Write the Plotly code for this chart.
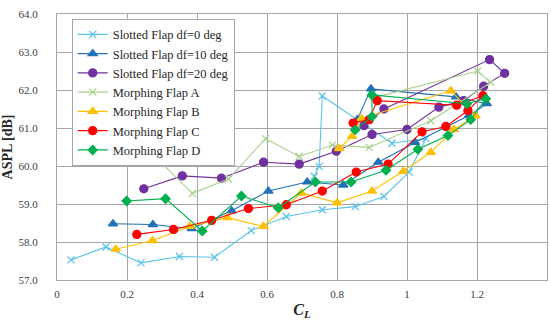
import plotly.graph_objects as go

# Slotted Flap df=0 deg
s0_cl = [0.04, 0.14, 0.24, 0.35, 0.45, 0.555, 0.655, 0.758, 0.852, 0.934, 1.006, 1.054, 0.957, 0.758, 0.749, 0.735]
s0_spl = [57.53, 57.87, 57.45, 57.62, 57.6, 58.3, 58.67, 58.85, 58.93, 59.2, 59.84, 60.72, 60.6, 61.84, 59.99, 59.73]
# Slotted Flap df=10 deg
s10_cl = [0.16, 0.274, 0.385, 0.499, 0.604, 0.715, 0.818, 0.918, 1.023, 1.177, 1.228, 1.14, 0.897, 0.858]
s10_spl = [58.48, 58.46, 58.35, 58.82, 59.34, 59.58, 59.5, 60.1, 60.62, 61.33, 61.64, 61.82, 62.03, 61.22]
# Slotted Flap df=20 deg
s20_cl = [0.248, 0.358, 0.47, 0.59, 0.692, 0.798, 0.9, 1.0, 1.091, 1.162, 1.219, 1.279, 1.236, 0.934, 0.877]
s20_spl = [59.4, 59.74, 59.68, 60.1, 60.05, 60.39, 60.83, 60.96, 61.55, 61.72, 62.1, 62.44, 62.8, 61.5, 61.06]
# Morphing Flap A
ma_cl = [0.273, 0.387, 0.49, 0.596, 0.692, 0.787, 0.892, 1.068, 1.239, 1.202, 0.905]
ma_spl = [60.31, 59.28, 59.66, 60.72, 60.25, 60.55, 60.49, 61.19, 62.2, 62.5, 61.8]
# Morphing Flap B
mb_cl = [0.168, 0.273, 0.379, 0.487, 0.59, 0.698, 0.8, 0.9, 0.989, 1.068, 1.134, 1.196, 1.125, 0.87, 0.843, 0.806]
mb_spl = [57.81, 58.04, 58.41, 58.64, 58.41, 59.29, 59.03, 59.34, 59.86, 60.36, 60.96, 61.32, 61.98, 61.25, 60.78, 60.46]
# Morphing Flap C
mc_cl = [0.228, 0.333, 0.442, 0.547, 0.655, 0.758, 0.855, 0.946, 1.043, 1.111, 1.174, 1.217, 1.142, 0.915, 0.892, 0.846]
mc_spl = [58.2, 58.33, 58.57, 58.88, 58.98, 59.34, 59.84, 60.05, 60.9, 61.04, 61.46, 61.85, 61.6, 61.72, 61.22, 61.13]
# Morphing Flap D
md_cl = [0.199, 0.31, 0.415, 0.527, 0.632, 0.738, 0.84, 0.94, 1.031, 1.117, 1.182, 1.225, 1.171, 0.9, 0.9, 0.852]
md_spl = [59.08, 59.14, 58.29, 59.21, 58.9, 59.58, 59.58, 59.89, 60.44, 60.8, 61.22, 61.77, 61.64, 61.87, 61.3, 60.95]

series = [
    ("Slotted Flap df=0 deg", s0_cl, s0_spl, "#5BC3EA", "x-thin-open", 7),
    ("Slotted Flap df=10 deg", s10_cl, s10_spl, "#2270B8", "triangle-up", 8),
    ("Slotted Flap df=20 deg", s20_cl, s20_spl, "#7030A0", "circle", 8),
    ("Morphing Flap A", ma_cl, ma_spl, "#A9D18E", "x-thin-open", 7),
    ("Morphing Flap B", mb_cl, mb_spl, "#FFC000", "triangle-up", 8),
    ("Morphing Flap C", mc_cl, mc_spl, "#FF0000", "circle", 8),
    ("Morphing Flap D", md_cl, md_spl, "#00B050", "diamond", 7),
]

fig = go.Figure()
for name, x, y, col, sym, sz in series:
    fig.add_trace(go.Scatter(
        x=x, y=y, name=name, mode="lines+markers",
        line=dict(color=col, width=1.1),
        marker=dict(color=col, symbol=sym, size=sz,
                    line=dict(color=col, width=1.3)),
    ))

serif = "Liberation Serif, Times New Roman, serif"
fig.update_layout(
    width=551, height=320,
    margin=dict(l=57, r=3, t=14, b=37),
    paper_bgcolor="white", plot_bgcolor="white",
    font=dict(family=serif, color="#404040", size=11),
    showlegend=True,
    legend=dict(
        x=0.03, y=0.982, xanchor="left", yanchor="top",
        bgcolor="white", bordercolor="#A6A6A6", borderwidth=1,
        font=dict(family=serif, size=12.5, color="#262626"),
        tracegroupgap=0, itemwidth=30,
    ),
    xaxis=dict(
        range=[0, 1.4], dtick=0.2, tick0=0,
        showgrid=True, gridcolor="#A6A6A6", gridwidth=1,
        showline=True, linecolor="#A6A6A6", mirror=True,
        zeroline=False, ticks="", ticklabelstandoff=4,
        tickfont=dict(family=serif, size=11, color="#404040"),
        title=dict(text="<b><i>C<sub>L</sub></i></b>", standoff=6,
                   font=dict(family=serif, size=16, color="#262626")),
    ),
    yaxis=dict(
        range=[57, 64], dtick=1, tick0=57, tickformat=".1f",
        showgrid=True, gridcolor="#A6A6A6", gridwidth=1,
        showline=True, linecolor="#A6A6A6", mirror=True,
        zeroline=False, ticks="", ticklabelstandoff=16,
        tickfont=dict(family=serif, size=11, color="#404040"),
        title=dict(text="<b>ASPL [dB]</b>", standoff=6,
                   font=dict(family=serif, size=14, color="#262626")),
    ),
)

fig.write_html("out.html")
